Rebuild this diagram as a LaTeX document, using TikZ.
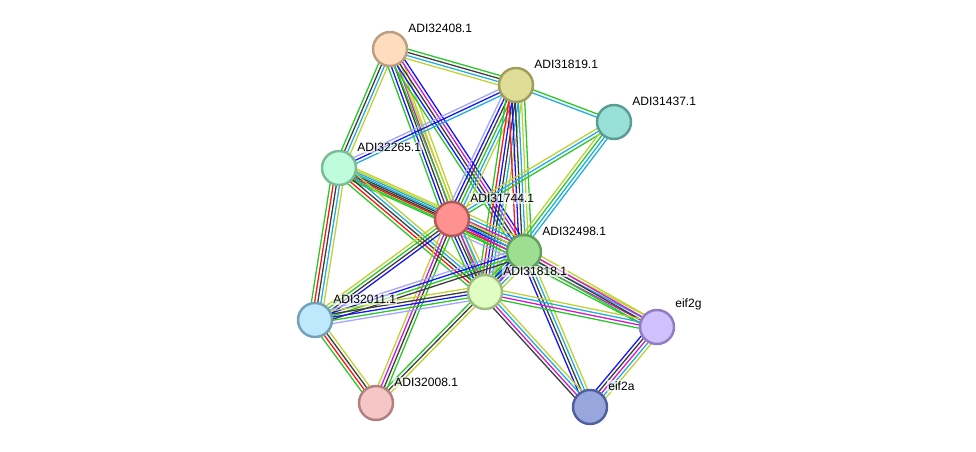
\documentclass[tikz,border=0pt]{standalone}
\usepackage{fontspec}
\setmainfont{Liberation Sans}
\usetikzlibrary{calc,backgrounds}

% stripe colours
\definecolor{sg}{RGB}{40,200,40}
\definecolor{sr}{RGB}{255,20,20}
\definecolor{sb}{RGB}{20,20,255}
\definecolor{sk}{RGB}{60,60,60}
\definecolor{sm}{RGB}{215,20,215}
\definecolor{sc}{RGB}{30,175,220}
\definecolor{sy}{RGB}{190,210,50}
\definecolor{sl}{RGB}{165,165,255}
% node colours
\definecolor{f32408}{RGB}{253,221,190}\definecolor{d32408}{RGB}{190,158,128}
\definecolor{f31819}{RGB}{222,222,152}\definecolor{d31819}{RGB}{160,158,90}
\definecolor{f31437}{RGB}{152,224,216}\definecolor{d31437}{RGB}{88,158,150}
\definecolor{f32265}{RGB}{190,252,220}\definecolor{d32265}{RGB}{122,188,150}
\definecolor{f31744}{RGB}{255,145,145}\definecolor{d31744}{RGB}{178,88,88}
\definecolor{f32498}{RGB}{157,222,146}\definecolor{d32498}{RGB}{100,158,95}
\definecolor{f31818}{RGB}{224,254,196}\definecolor{d31818}{RGB}{158,188,128}
\definecolor{f32011}{RGB}{190,232,252}\definecolor{d32011}{RGB}{118,160,185}
\definecolor{feif2g}{RGB}{208,192,252}\definecolor{deif2g}{RGB}{145,125,195}
\definecolor{f32008}{RGB}{246,198,198}\definecolor{d32008}{RGB}{178,128,128}
\definecolor{feif2a}{RGB}{152,166,222}\definecolor{deif2a}{RGB}{80,95,160}

\tikzset{
  prot/.style={circle, minimum size=1.02cm, inner sep=0pt, line width=2.1pt},
  lbl/.style={font=\fontsize{10.3}{12}\selectfont, inner sep=1pt, xshift=0.12cm, yshift=0.07cm,
    fill=white, fill opacity=0.6, text opacity=1},
  stripe/.style={line width=1.1pt},
}

% parallel stripes between two nodes
\newcommand{\bundle}[3]{%
  \foreach \c [count=\i] in {#3} {\xdef\nlines{\i}}
  \foreach \c [count=\i] in {#3} {
    \pgfmathsetmacro{\off}{(\i-(\nlines+1)/2)*2.7}
    \draw[stripe, \c] ($(#1.center)!\off pt!90:(#2.center)$) -- ($(#2.center)!\off pt!-90:(#1.center)$);
  }}

\begin{document}
\begin{tikzpicture}[x=0.03cm, y=-0.03cm]
\useasboundingbox (0,0) rectangle (976,452);

\node[prot, fill=f32408, draw=d32408, label={[lbl]above right:ADI32408.1}] (n32408) at (390,49) {};
\node[prot, fill=f31819, draw=d31819, label={[lbl]above right:ADI31819.1}] (n31819) at (516,85) {};
\node[prot, fill=f31437, draw=d31437, label={[lbl]above right:ADI31437.1}] (n31437) at (614,122) {};
\node[prot, fill=f32265, draw=d32265, label={[lbl]above right:ADI32265.1}] (n32265) at (339,168) {};
\node[prot, fill=f31744, draw=d31744, label={[lbl]above right:ADI31744.1}] (n31744) at (452,219) {};
\node[prot, fill=f32498, draw=d32498, label={[lbl]above right:ADI32498.1}] (n32498) at (524,252) {};
\node[prot, fill=f31818, draw=d31818, label={[lbl]above right:ADI31818.1}] (n31818) at (485,292) {};
\node[prot, fill=f32011, draw=d32011, label={[lbl]above right:ADI32011.1}] (n32011) at (315,320) {};
\node[prot, fill=feif2g, draw=deif2g, label={[lbl]above right:eif2g}] (neif2g) at (657,327) {};
\node[prot, fill=f32008, draw=d32008, label={[lbl]above right:ADI32008.1}] (n32008) at (376,403) {};
\node[prot, fill=feif2a, draw=deif2a, label={[lbl]above right:eif2a}] (neif2a) at (590,407) {};

\begin{scope}[on background layer]
\bundle{n32408}{n31819}{sy,sc,sk,sg}
\bundle{n32408}{n32265}{sg,sk,sc,sy}
\bundle{n32408}{n31744}{sg,sb,sk,sm,sy,sy}
\bundle{n32408}{n31818}{sg,sy}
\bundle{n32408}{n32498}{sg,sb,sk,sm,sb}
\bundle{n32265}{n31819}{sc,sb,sl}
\bundle{n31819}{n31437}{sc,sg}
\bundle{n31819}{n31744}{sl,sb,sk,sg,sc,sy}
\bundle{n31819}{n31818}{sg,sr,sb,sk,sc,sy}
\bundle{n31819}{n32498}{sr,sb,sk,sc,sy,sg}
\bundle{n31437}{n31744}{sy,sc,sg}
\bundle{n31437}{n31818}{sy,sg,sc,sc}
\bundle{n32265}{n31744}{sg,sr,sk,sc,sy}
\bundle{n32265}{n32498}{sg,sk,sc,sy}
\bundle{n32265}{n31818}{sg,sr,sk,sc,sy}
\bundle{n32265}{n32011}{sg,sr,sk,sc,sy}
\bundle{n31744}{n32498}{sl,sg,sr,sb,sk,sm,sc,sy}
\bundle{n31744}{n31818}{sg,sb,sk,sm,sc,sy}
\bundle{n31744}{n32011}{sy,sg,sk,sb}
\bundle{n31744}{n32008}{sy,sm,sk,sg}
\bundle{n31744}{neif2g}{sg,sm,sc,sy}
\bundle{n32498}{n31818}{sl,sg,sb,sk,sm,sc,sy}
\bundle{n32498}{n32011}{sl,sb,sg,sk}
\bundle{n31818}{n32011}{sy,sk,sb,sg,sl}
\bundle{n32498}{neif2g}{sg,sk,sm,sy}
\bundle{n32498}{neif2a}{sb,sk,sc,sy}
\bundle{n31818}{n32008}{sg,sk,sy}
\bundle{n31818}{neif2g}{sg,sm,sc,sy}
\bundle{n31818}{neif2a}{sk,sm,sc,sy}
\bundle{neif2g}{neif2a}{sb,sk,sm,sc,sy}
\bundle{n32011}{n32008}{sg,sr,sk,sy}
\end{scope}
\end{tikzpicture}
\end{document}
